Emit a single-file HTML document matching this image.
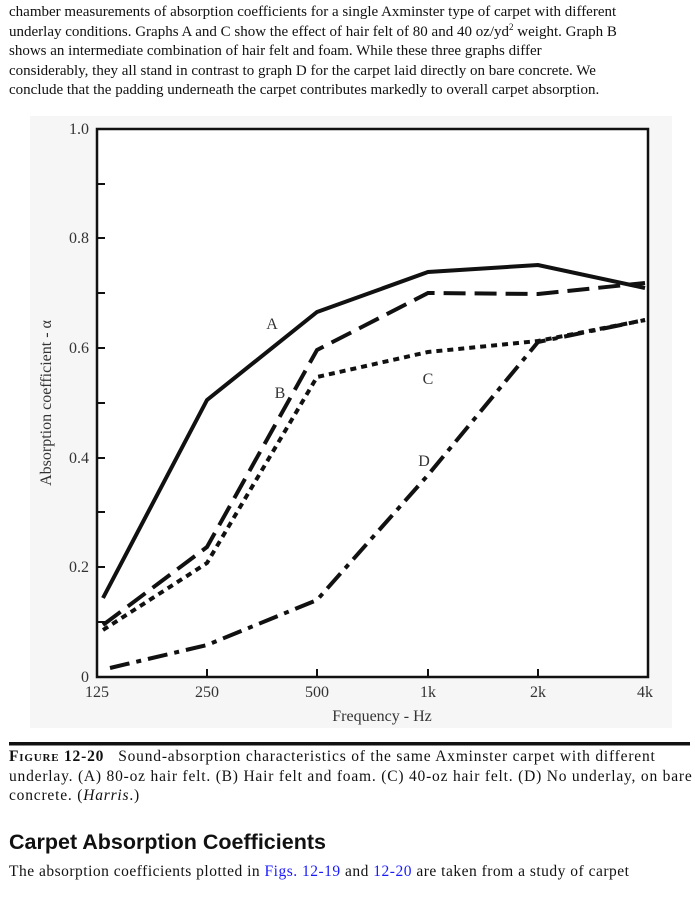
<!DOCTYPE html>
<html><head><style>
body{margin:0;width:695px;height:900px;background:#fff;font-family:"Liberation Serif",serif;color:#111;position:relative;overflow:hidden}
.t{position:absolute;left:9px;font-size:15px;line-height:19.5px;white-space:nowrap}
a{color:#1a1aff;text-decoration:none}
</style></head><body>
<div class="t" style="top:3px">chamber measurements of absorption coefficients for a single Axminster type of carpet with different<br>underlay conditions. Graphs A and C show the effect of hair felt of 80 and 40 oz/yd<sup style="font-size:9px;line-height:0">2</sup> weight. Graph B<br>shows an intermediate combination of hair felt and foam. While these three graphs differ<br>considerably, they all stand in contrast to graph D for the carpet laid directly on bare concrete. We<br>conclude that the padding underneath the carpet contributes markedly to overall carpet absorption.</div>
<svg style="position:absolute;left:0;top:0" width="695" height="900">
<rect x="30" y="116" width="642" height="612" fill="#f6f6f6"/>
<rect x="97" y="129" width="551" height="548" fill="#fff" stroke="#111" stroke-width="2.5"/>
<g stroke="#111" stroke-width="2">
<line x1="97" y1="622" x2="105" y2="622"/><line x1="97" y1="567" x2="105" y2="567"/><line x1="97" y1="512" x2="105" y2="512"/><line x1="97" y1="458" x2="105" y2="458"/><line x1="97" y1="403" x2="105" y2="403"/><line x1="97" y1="348" x2="105" y2="348"/><line x1="97" y1="293" x2="105" y2="293"/><line x1="97" y1="238" x2="105" y2="238"/><line x1="97" y1="184" x2="105" y2="184"/>
<line x1="207" y1="677" x2="207" y2="669"/><line x1="317" y1="677" x2="317" y2="669"/><line x1="428" y1="677" x2="428" y2="669"/><line x1="538" y1="677" x2="538" y2="669"/>
</g>
<g font-family="Liberation Serif,serif" font-size="16" fill="#333" text-anchor="end">
<text x="89" y="134">1.0</text><text x="89" y="243">0.8</text><text x="89" y="353">0.6</text><text x="89" y="463">0.4</text><text x="89" y="572">0.2</text><text x="89" y="682">0</text>
</g>
<g font-family="Liberation Serif,serif" font-size="16" fill="#333" text-anchor="middle">
<text x="97" y="697">125</text><text x="207" y="697">250</text><text x="317" y="697">500</text><text x="428" y="697">1k</text><text x="538" y="697">2k</text><text x="645" y="697">4k</text>
<text x="382" y="721">Frequency - Hz</text>
<text transform="translate(51,403) rotate(-90)">Absorption coefficient - α</text>
<text x="272" y="329">A</text><text x="280" y="398">B</text><text x="428" y="384">C</text><text x="424" y="466">D</text>
</g>
<g fill="none" stroke="#111" stroke-width="4">
<polyline points="103,598 207,400 317,312 428,272 538,265 645,288"/>
<polyline stroke-dasharray="22,9" points="103,625 207,547 317,350 428,293 538,294 645,283"/>
<polyline stroke-dasharray="6,5" points="103,630 207,563 317,377 428,352 538,341 645,320"/>
<polyline stroke-dasharray="20,7,5,7" points="110,668 207,645 317,600 428,475 538,342 645,320"/>
</g>
<rect x="9" y="742" width="681" height="3.5" fill="#111"/>
</svg>
<div class="t" style="top:747px;font-size:15.5px;letter-spacing:0.8px"><span style="font-variant:small-caps;font-weight:bold">Figure 12-20</span>&nbsp;&nbsp; Sound-absorption characteristics of the same Axminster carpet with different<br>underlay. (A) 80-oz hair felt. (B) Hair felt and foam. (C) 40-oz hair felt. (D) No underlay, on bare<br>concrete. (<i>Harris</i>.)</div>
<div class="t" style="top:829px;font-size:21.5px;font-weight:bold;font-family:'Liberation Sans',sans-serif;line-height:26px">Carpet Absorption Coefficients</div>
<div class="t" style="top:862px;font-size:15.5px;letter-spacing:0.5px">The absorption coefficients plotted in <a>Figs. 12-19</a> and <a>12-20</a> are taken from a study of carpet</div>
</body></html>
